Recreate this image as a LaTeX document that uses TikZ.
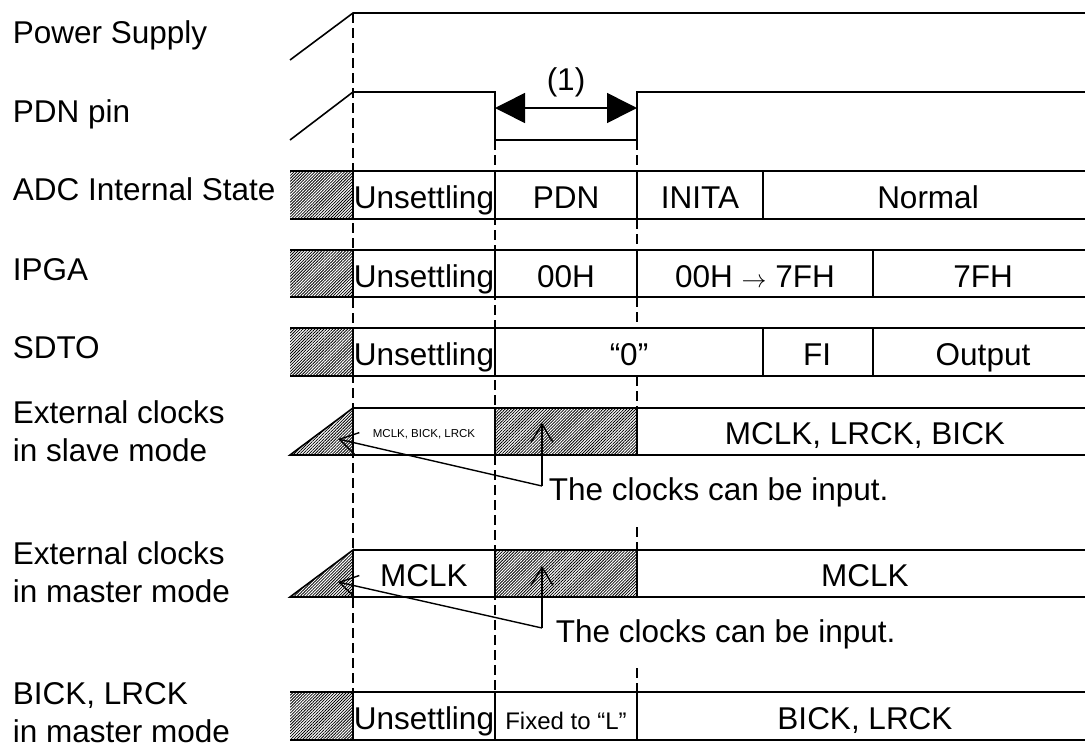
\documentclass[tikz,border=0pt]{standalone}
\usepackage{fontspec}
\setmainfont{Liberation Sans}
\usetikzlibrary{positioning,arrows.meta,patterns.meta}

\begin{document}
\begin{tikzpicture}[x=1pt,y=-1pt,
    line width=1.6pt,
    font=\fontsize{31.5}{38}\selectfont,
    lbl/.style={anchor=base west,inner sep=0pt,align=left},
    cell/.style={anchor=base,inner sep=0pt},
    hatch/.style={pattern={Lines[angle=45,distance=2.1pt,line width=0.8pt]}},
    guide/.style={dash pattern=on 10pt off 5pt,line width=1.4pt},
    pointer/.style={-{Straight Barb[length=18pt,width=22pt]},line width=1.4pt},
    span/.style={{Triangle[length=30pt,width=30pt]}-{Triangle[length=30pt,width=30pt]}}]
    \useasboundingbox (0,0) rectangle (1085,745);

    % signal names
    \node[lbl] (pow) at (12,43) {Power Supply};
    \node[lbl] (pdn) at (12,122) {PDN pin};
    \node[lbl] (adc) at (12,200) {ADC Internal State};
    \node[lbl] (ipga) at (12,280) {IPGA};
    \node[lbl] (sdto) at (12,358) {SDTO};
    \node[lbl] (slv) at (12,461) {External clocks\\in slave mode};
    \node[lbl] (mst) at (12,602) {External clocks\\in master mode};
    \node[lbl] (bick) at (12,742) {BICK, LRCK\\in master mode};

    % timing guides
    \draw[guide] (353,13) -- (353,740);
    \draw[guide] (495,140) -- (495,740);
    \draw[guide] (637,140) -- (637,171) (637,219) -- (637,250) (637,297) -- (637,328)
        (637,376) -- (637,408) (637,527) -- (637,550) (637,668) -- (637,692);

    % power supply and PDN pin
    \draw (290,60) -- (353,13) -- (1085,13);
    \draw (290,140) -- (353,92) -- (495,92) -- (495,140) -- (637,140) -- (637,92) -- (1085,92);
    \coordinate (pA) at (495,108);
    \coordinate (pB) at (637,108);
    \draw[span] (pA) -- (pB);
    \node[cell] (one) at (566,90) {(1)};

    % state rows
    \foreach \t/\b in {171/219,250/297,328/376,692/740}{
        \fill[hatch] (290,\t) rectangle (353,\b);
        \draw (290,\t) -- (1085,\t) (290,\b) -- (1085,\b);
        \draw (353,\t) -- (353,\b) (495,\t) -- (495,\b);
    }
    \draw (637,171) -- (637,219) (763,171) -- (763,219);
    \draw (637,250) -- (637,297) (873,250) -- (873,297);
    \draw (763,328) -- (763,376) (873,328) -- (873,376);
    \draw (637,692) -- (637,740);

    % clock rows
    \foreach \t/\b in {408/455,550/597}{
        \filldraw[hatch] (290,\b) -- (353,\t) -- (353,\b) -- cycle;
        \draw (353,\t) -- (1085,\t) (290,\b) -- (1085,\b);
        \filldraw[hatch] (495,\t) rectangle (637,\b);
    }

    % ADC Internal State
    \node[cell] (adc1) at (424,208) {Unsettling};
    \node[cell] (adc2) at (566,208) {PDN};
    \node[cell] (adc3) at (700,208) {INITA};
    \node[cell] (adc4) at (928,208) {Normal};
    % IPGA
    \node[cell] (ipga1) at (424,287) {Unsettling};
    \node[cell] (ipga2) at (566,287) {00H};
    \node[cell] (ipga3) at (755,287) {00H $\rightarrow$ 7FH};
    \node[cell] (ipga4) at (983,287) {7FH};
    % SDTO
    \node[cell] (sdto1) at (424,365) {Unsettling};
    \node[cell] (sdto2) at (629,365) {“0”};
    \node[cell] (sdto3) at (817,365) {FI};
    \node[cell] (sdto4) at (983,365) {Output};
    % external clocks
    \node[cell,font=\fontsize{11.5}{14}\selectfont] (slv1) at (424,437) {MCLK, BICK, LRCK};
    \node[cell] (slv2) at (865,444) {MCLK, LRCK, BICK};
    \node[cell] (mst1) at (424,586) {MCLK};
    \node[cell] (mst2) at (865,586) {MCLK};
    % BICK, LRCK
    \node[cell] (bick1) at (424,729) {Unsettling};
    \node[cell,font=\fontsize{24}{29}\selectfont] (bick2) at (566,729) {Fixed to “L”};
    \node[cell] (bick3) at (865,729) {BICK, LRCK};

    % notes
    \node[lbl] (noteS) at (548,500) {The clocks can be input.};
    \node[lbl] (noteM) at (555,642) {The clocks can be input.};
    \coordinate (cS) at (542,486);
    \coordinate (cM) at (542,628);
    \coordinate (tS1) at (542,423);
    \coordinate (tS2) at (338,439);
    \coordinate (tM1) at (542,566);
    \coordinate (tM2) at (338,582);
    \draw[pointer] (cS) -- (tS1);
    \draw[pointer] (cS) -- (tS2);
    \draw[pointer] (cM) -- (tM1);
    \draw[pointer] (cM) -- (tM2);
\end{tikzpicture}
\end{document}
